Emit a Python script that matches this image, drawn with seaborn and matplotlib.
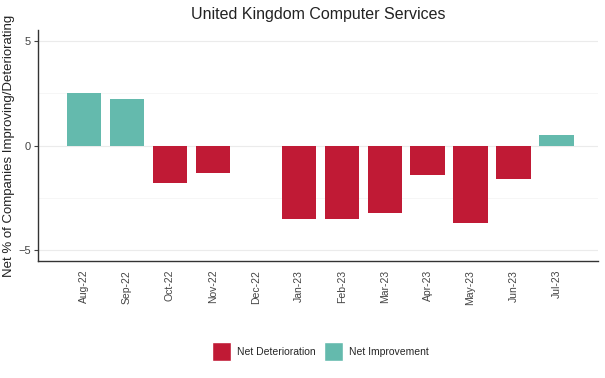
import matplotlib
matplotlib.use("Agg")
import matplotlib.pyplot as plt
import pandas as pd
import seaborn as sns
from matplotlib.patches import Patch
from matplotlib.ticker import MultipleLocator

# Data
months = ["Aug-22", "Sep-22", "Oct-22", "Nov-22", "Dec-22", "Jan-23",
          "Feb-23", "Mar-23", "Apr-23", "May-23", "Jun-23", "Jul-23"]
net_values = [2.5, 2.2, -1.8, -1.3, 0.0, -3.5, -3.5, -3.2, -1.4, -3.7, -1.6, 0.5]

red = "#C01A35"
teal = "#64BAAD"

df = pd.DataFrame({"month": months, "value": net_values})
df["status"] = ["Net Improvement" if v > 0 else "Net Deterioration" for v in df["value"]]

sns.set_style("white")
plt.rcParams['font.family'] = ['Liberation Sans', 'DejaVu Sans']

fig = plt.figure(figsize=(6.05, 3.78), dpi=100)
ax = fig.add_axes([0.063, 0.31, 0.925, 0.61])

ax.yaxis.set_major_locator(MultipleLocator(5))
ax.yaxis.set_minor_locator(MultipleLocator(2.5))
ax.grid(axis="y", which="major", color="#EBEBEB", linewidth=0.8)
ax.grid(axis="y", which="minor", color="#F5F5F5", linewidth=0.6)
ax.set_axisbelow(True)

sns.barplot(data=df, x="month", y="value", hue="status",
            palette={"Net Deterioration": red, "Net Improvement": teal},
            hue_order=["Net Deterioration", "Net Improvement"],
            dodge=False, width=0.8, saturation=1, ax=ax, legend=False,
            linewidth=0)

ax.set_xlim(-1.07, 11.96)
ax.set_ylim(-5.5, 5.5)
ax.set_xlabel("")
ax.set_ylabel("Net % of Companies Improving/Deteriorating", fontsize=9.5, color="#222222")
ax.yaxis.set_label_coords(-0.041, 0.5)
ax.set_title("United Kingdom Computer Services", fontsize=11.5, color="#222222", pad=8)

ax.tick_params(axis="x", rotation=90, labelsize=7.5, colors="#444444", length=3)
ax.tick_params(axis="y", labelsize=8, colors="#444444", length=3, pad=2, left=True)
ax.tick_params(axis="y", which="minor", length=0)

for side in ["top", "right"]:
    ax.spines[side].set_visible(False)
for side in ["left", "bottom"]:
    ax.spines[side].set_color("#333333")
    ax.spines[side].set_linewidth(1.0)

handles = [Patch(facecolor=red, label="Net Deterioration"),
           Patch(facecolor=teal, label="Net Improvement")]
fig.legend(handles=handles, loc="center", bbox_to_anchor=(0.53, 0.07), ncol=2,
           frameon=False, fontsize=7.5, handlelength=1.8, handleheight=2.4,
           columnspacing=0.8, handletextpad=0.6)

fig.savefig("out.png", dpi=100)
